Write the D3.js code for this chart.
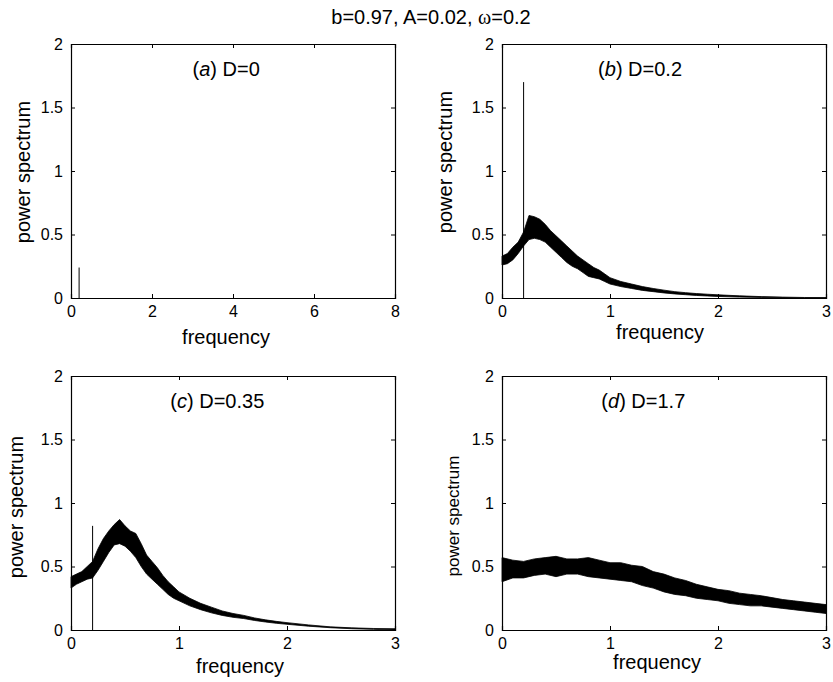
<!DOCTYPE html>
<html>
<head>
<meta charset="utf-8">
<script src="https://cdn.jsdelivr.net/npm/d3@7"></script>
<style>
  body { margin: 0; background: #fff; }
  svg { display: block; }
  text { font-family: "Liberation Sans", Arial, sans-serif; fill: #000; }
  .axis path, .axis line { stroke: #000; }
</style>
</head>
<body>
<div id="chart"></div>
<script>
// Frequency samples and the lower / upper edge of the noisy trace
const freqBC = [0, 0.05, 0.1, 0.15, 0.2, 0.25, 0.3, 0.35, 0.4, 0.45, 0.5, 0.55, 0.6, 0.65, 0.7, 0.75,
    0.8, 0.85, 0.9, 0.95, 1.0, 1.1, 1.2, 1.3, 1.4, 1.5, 1.6, 1.7, 1.8, 1.9, 2.0, 2.2, 2.4, 2.6, 2.8, 3.0];

const highB = [0.33, 0.35, 0.40, 0.44, 0.52, 0.65, 0.64, 0.62, 0.58, 0.53, 0.49, 0.45, 0.41, 0.37, 0.33, 0.30,
    0.27, 0.24, 0.22, 0.19, 0.16, 0.13, 0.11, 0.09, 0.075, 0.062, 0.05, 0.042, 0.035, 0.03, 0.025, 0.017, 0.011, 0.007, 0.004, 0.003];
const lowB = [0.26, 0.27, 0.30, 0.35, 0.41, 0.46, 0.47, 0.46, 0.44, 0.40, 0.36, 0.32, 0.28, 0.25, 0.23, 0.20,
    0.17, 0.16, 0.15, 0.13, 0.11, 0.09, 0.075, 0.06, 0.05, 0.04, 0.032, 0.026, 0.02, 0.016, 0.012, 0.007, 0.004, 0.002, 0.001, 0];

const highC = [0.42, 0.44, 0.46, 0.50, 0.54, 0.64, 0.72, 0.78, 0.83, 0.87, 0.82, 0.78, 0.76, 0.68, 0.59, 0.54,
    0.49, 0.43, 0.38, 0.34, 0.30, 0.25, 0.21, 0.18, 0.15, 0.13, 0.115, 0.095, 0.08, 0.068, 0.058, 0.04, 0.025, 0.017, 0.012, 0.01];
const lowC = [0.33, 0.36, 0.38, 0.40, 0.41, 0.47, 0.54, 0.61, 0.67, 0.68, 0.66, 0.62, 0.57, 0.50, 0.44, 0.40,
    0.36, 0.32, 0.28, 0.25, 0.23, 0.19, 0.16, 0.135, 0.115, 0.10, 0.09, 0.075, 0.063, 0.053, 0.045, 0.03, 0.018, 0.01, 0.005, 0];

const freqD = [0, 0.1, 0.2, 0.3, 0.4, 0.5, 0.6, 0.7, 0.8, 0.9, 1.0, 1.1, 1.2, 1.3, 1.4, 1.5,
    1.6, 1.7, 1.8, 1.9, 2.0, 2.1, 2.2, 2.3, 2.4, 2.5, 2.6, 2.7, 2.8, 2.9, 3.0];
const highD = [0.57, 0.55, 0.54, 0.56, 0.57, 0.58, 0.56, 0.56, 0.57, 0.55, 0.53, 0.53, 0.51, 0.50, 0.46, 0.44,
    0.41, 0.39, 0.36, 0.34, 0.32, 0.31, 0.29, 0.28, 0.27, 0.255, 0.24, 0.23, 0.22, 0.21, 0.20];
const lowD = [0.38, 0.41, 0.41, 0.43, 0.44, 0.42, 0.44, 0.44, 0.42, 0.41, 0.40, 0.39, 0.38, 0.35, 0.33, 0.30,
    0.28, 0.27, 0.25, 0.24, 0.23, 0.21, 0.20, 0.19, 0.19, 0.18, 0.17, 0.16, 0.15, 0.14, 0.13];

// the periodic-signal line at omega = 0.2
const spikeFreq = [0.2, 0.2, 0.2];
const spikeHeight = [0.24, 1.70, 0.82];

const yTicks = [0, 0.5, 1, 1.5, 2];
const xTicksWide = [0, 2, 4, 6, 8];
const xTicksNarrow = [0, 1, 2, 3];

const panels = [
    {id: "a", D: "0", left: 71, top: 44, xmax: 8, xticks: xTicksWide, freq: null, spike: 0,
     titleX: 3.0, yLabX: 30, yLabY: 172, yLabSize: 20, xLabX: 226, xLabY: 344},
    {id: "b", D: "0.2", left: 502, top: 44, xmax: 3, xticks: xTicksNarrow, freq: freqBC, low: lowB, high: highB, spike: 1,
     titleX: 0.89, yLabX: 452, yLabY: 162, yLabSize: 20, xLabX: 660, xLabY: 339},
    {id: "c", D: "0.35", left: 71, top: 376, xmax: 3, xticks: xTicksNarrow, freq: freqBC, low: lowC, high: highC, spike: 2,
     titleX: 0.92, yLabX: 23, yLabY: 507, yLabSize: 20, xLabX: 240, xLabY: 673},
    {id: "d", D: "1.7", left: 502, top: 376, xmax: 3, xticks: xTicksNarrow, freq: freqD, low: lowD, high: highD, spike: -1,
     titleX: 0.92, yLabX: 459, yLabY: 516, yLabSize: 17, xLabX: 657, xLabY: 669}
];

const width = 833, height = 682;
const pw = 324, ph = 254;

const svg = d3.select("#chart").append("svg")
    .attr("width", width)
    .attr("height", height);

// Figure title
const title = svg.append("text")
    .attr("x", 431)
    .attr("y", 24)
    .attr("text-anchor", "middle")
    .attr("font-size", 20);
title.append("tspan").text("b=0.97, A=0.02, ");
title.append("tspan").attr("font-family", "'Liberation Serif', 'DejaVu Serif', serif").text("ω");
title.append("tspan").text("=0.2");

panels.forEach(p => {
    const g = svg.append("g").attr("transform", `translate(${p.left},${p.top})`);

    const x = d3.scaleLinear().domain([0, p.xmax]).range([0, pw]);
    const y = d3.scaleLinear().domain([0, 2]).range([ph, 0]);

    // noisy spectrum drawn as a band between its lower and upper edge
    if (p.freq) {
        const rows = p.freq.map((f, i) => ({f: f, lo: p.low[i], hi: p.high[i]}));
        const area = d3.area()
            .x(d => x(d.f))
            .y0(d => y(d.lo))
            .y1(d => y(d.hi));
        g.append("path")
            .datum(rows)
            .attr("d", area)
            .attr("fill", "#000")
            .attr("stroke", "#000")
            .attr("stroke-width", 0.8)
            .attr("stroke-linejoin", "round");
    }

    // periodic spike
    if (p.spike >= 0) {
        g.append("line")
            .attr("x1", x(spikeFreq[p.spike]))
            .attr("x2", x(spikeFreq[p.spike]))
            .attr("y1", y(0))
            .attr("y2", y(spikeHeight[p.spike]))
            .attr("stroke", "#000")
            .attr("stroke-width", 1);
    }

    // axes, MATLAB box style with inward ticks on all sides
    const fmt = d => d3.format("")(d);
    g.append("g").attr("class", "axis")
        .attr("transform", `translate(0,${ph})`)
        .call(d3.axisBottom(x).tickValues(p.xticks).tickSize(-4).tickPadding(8).tickFormat(fmt))
        .call(s => s.selectAll("text").attr("font-size", 16).attr("font-family", null));
    g.append("g").attr("class", "axis")
        .call(d3.axisTop(x).tickValues(p.xticks).tickSize(-4).tickFormat(""));
    g.append("g").attr("class", "axis")
        .call(d3.axisLeft(y).tickValues(yTicks).tickSize(-4).tickPadding(8).tickFormat(fmt))
        .call(s => s.selectAll("text").attr("font-size", 16).attr("font-family", null));
    g.append("g").attr("class", "axis")
        .attr("transform", `translate(${pw},0)`)
        .call(d3.axisRight(y).tickValues(yTicks).tickSize(-4).tickFormat(""));
    g.selectAll(".axis path").attr("stroke-width", 1.2);

    // panel label
    const t = g.append("text")
        .attr("x", x(p.titleX))
        .attr("y", y(1.75))
        .attr("font-size", 20);
    t.append("tspan").text("(");
    t.append("tspan").attr("font-style", "italic").text(p.id);
    t.append("tspan").text(") D=" + p.D);

    // axis labels
    svg.append("text")
        .attr("x", p.xLabX)
        .attr("y", p.xLabY)
        .attr("text-anchor", "middle")
        .attr("font-size", 20)
        .text("frequency");
    svg.append("text")
        .attr("transform", `translate(${p.yLabX},${p.yLabY}) rotate(-90)`)
        .attr("text-anchor", "middle")
        .attr("font-size", p.yLabSize)
        .text("power spectrum");
});
</script>
</body>
</html>
